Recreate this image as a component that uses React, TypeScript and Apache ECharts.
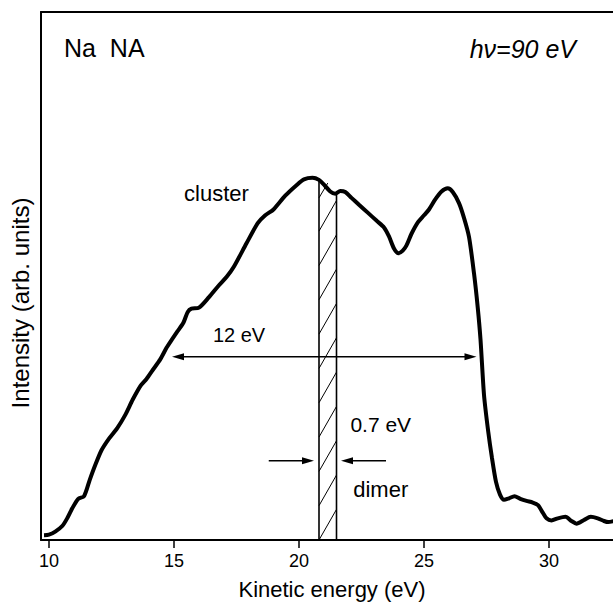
import React, { useEffect, useRef } from "react";
import * as echarts from "echarts";

// Photoelectron spectrum of Na nanoclusters (Na NA), hv = 90 eV
const energy: number[] = [
  9.8, 10.0, 10.25, 10.54, 10.75, 10.93, 11.17, 11.4, 11.63, 11.85, 12.1, 12.4, 12.73,
  13.04, 13.35, 13.66, 13.9, 14.15, 14.45, 14.7, 14.92, 15.15, 15.38, 15.55, 15.7, 16.0,
  16.4, 16.79, 17.1, 17.4, 17.9, 18.35, 18.65, 18.98, 19.45, 19.9, 20.2, 20.54, 20.8, 21.0,
  21.25, 21.45, 21.65, 21.85, 22.1, 22.4, 22.75, 23.12, 23.4, 23.6, 23.8, 23.98, 24.15,
  24.3, 24.5, 24.76, 25.0, 25.2, 25.45, 25.7, 25.95, 26.15, 26.4, 26.6, 26.8, 27.0, 27.15,
  27.26, 27.4, 27.57, 27.72, 27.88, 28.04, 28.2, 28.4, 28.62, 28.85, 29.1, 29.35, 29.56,
  29.75, 29.9, 30.1, 30.35, 30.66, 30.9, 31.1, 31.4, 31.67, 31.95, 32.2, 32.37, 32.6,
];
const intensity: number[] = [
  0.9, 1.0, 1.6, 2.7, 4.3, 6.0, 7.8, 8.3, 11.4, 14.2, 17.0, 19.2, 21.2,
  23.6, 26.6, 29.2, 30.5, 32.2, 34.2, 36.4, 38.0, 39.6, 41.2, 43.2, 43.8, 44.0,
  46.0, 48.2, 49.8, 51.8, 56.2, 60.0, 61.5, 62.6, 65.2, 67.2, 68.3, 68.6, 68.2, 67.3,
  66.0, 65.6, 66.1, 65.9, 64.8, 63.5, 62.0, 60.4, 59.2, 57.5, 55.2, 54.3, 54.8,
  55.8, 58.0, 60.2, 61.5, 62.6, 64.5, 66.0, 66.6, 65.9, 63.8, 61.0, 57.4, 50.5, 44.0,
  38.0, 27.5, 20.5, 15.5, 11.0, 8.6, 7.6, 7.9, 8.3, 7.8, 7.4, 7.1, 6.6,
  5.2, 4.1, 3.7, 4.1, 4.4, 3.6, 3.1, 3.8, 4.4, 4.1, 3.6, 3.4, 3.6,
];

const xTicks: number[] = [10, 15, 20, 25, 30];

// dimer band (0.7 eV wide): [x1, y1, x2, y2]
const bandEdges: number[][] = [
  [20.8, 0, 20.8, 68.4],
  [21.5, 0, 21.5, 65.7],
];
const hatchLines: number[][] = [
  [20.8, 0, 21.5, 5.8],
  [20.8, 6.5, 21.5, 12.3],
  [20.8, 13, 21.5, 18.8],
  [20.8, 19.5, 21.5, 25.3],
  [20.8, 26, 21.5, 31.8],
  [20.8, 32.5, 21.5, 38.3],
  [20.8, 39, 21.5, 44.8],
  [20.8, 45.5, 21.5, 51.3],
  [20.8, 52, 21.5, 57.8],
  [20.8, 58.5, 21.5, 64.3],
  [20.8, 64.8, 21.15, 67.6],
];

// arrows: [xFrom, xTo, y, headAtStart, headAtEnd]
const arrows: number[][] = [
  [14.92, 27.1, 34.7, 1, 1],
  [18.79, 20.6, 15.0, 0, 1],
  [23.48, 21.68, 15.0, 0, 1],
];

const annotationTexts: string[] = ["cluster", "12 eV", "0.7 eV", "dimer"];
const annotationX: number[] = [16.7, 17.6, 23.27, 23.27];
const annotationY: number[] = [65.7, 38.8, 21.8, 9.5];
const annotationSize: number[] = [22, 20, 21, 22];

const FONT = '"Liberation Sans", Arial, Helvetica, sans-serif';

export default function App() {
  const ref = useRef<HTMLDivElement>(null);
  useEffect(() => {
    if (!ref.current) return;
    const chart = echarts.init(ref.current, undefined, { renderer: "svg" });

    const segRender = (w: number) => (params: any, api: any) => {
      const p1 = api.coord([api.value(0), api.value(1)]);
      const p2 = api.coord([api.value(2), api.value(3)]);
      return {
        type: "line",
        shape: { x1: p1[0], y1: p1[1], x2: p2[0], y2: p2[1] },
        style: { stroke: "#000", lineWidth: w },
      };
    };

    const arrowRender = (params: any, api: any) => {
      const p1 = api.coord([api.value(0), api.value(2)]);
      const p2 = api.coord([api.value(1), api.value(2)]);
      const hs = api.value(3);
      const he = api.value(4);
      const L = 12;
      const H = 3.5;
      const dir = p2[0] > p1[0] ? 1 : -1;
      const children: any[] = [];
      const sx = hs ? p1[0] + dir * (L - 2) : p1[0];
      const ex = he ? p2[0] - dir * (L - 2) : p2[0];
      children.push({
        type: "line",
        shape: { x1: sx, y1: p1[1], x2: ex, y2: p2[1] },
        style: { stroke: "#000", lineWidth: 1.6 },
      });
      if (he) {
        children.push({
          type: "polygon",
          shape: {
            points: [
              [p2[0], p2[1]],
              [p2[0] - dir * L, p2[1] - H],
              [p2[0] - dir * L, p2[1] + H],
            ],
          },
          style: { fill: "#000" },
        });
      }
      if (hs) {
        children.push({
          type: "polygon",
          shape: {
            points: [
              [p1[0], p1[1]],
              [p1[0] + dir * L, p1[1] - H],
              [p1[0] + dir * L, p1[1] + H],
            ],
          },
          style: { fill: "#000" },
        });
      }
      return { type: "group", children };
    };

    const textRender = (params: any, api: any) => {
      const p = api.coord([api.value(0), api.value(1)]);
      return {
        type: "text",
        x: p[0],
        y: p[1],
        style: {
          text: annotationTexts[params.dataIndex],
          fill: "#000",
          font: `${annotationSize[params.dataIndex]}px ${FONT}`,
          align: "center",
          verticalAlign: "middle",
        },
      };
    };

    const xMin = 9.68;
    const xMax = 32.56;

    chart.setOption({
      animation: false,
      backgroundColor: "#fff",
      grid: { left: 41, right: 0, top: 12, bottom: 64 },
      xAxis: [
        {
          type: "value",
          min: xMin,
          max: xMax,
          position: "bottom",
          axisLine: { show: true, lineStyle: { color: "#000", width: 2 } },
          axisTick: {
            show: true,
            inside: false,
            length: 8,
            lineStyle: { color: "#000", width: 1.5 },
            customValues: xTicks,
          },
          axisLabel: {
            show: true,
            color: "#000",
            fontSize: 18,
            fontFamily: FONT,
            margin: 12,
            customValues: xTicks,
          },
          splitLine: { show: false },
        },
        {
          type: "value",
          min: xMin,
          max: xMax,
          position: "top",
          axisLine: { show: true, lineStyle: { color: "#000", width: 2 } },
          axisTick: { show: false },
          axisLabel: { show: false },
          splitLine: { show: false },
        },
      ],
      yAxis: {
        type: "value",
        min: 0,
        max: 100,
        axisLine: { show: true, lineStyle: { color: "#000", width: 2 } },
        axisTick: { show: false },
        axisLabel: { show: false },
        splitLine: { show: false },
      },
      graphic: [
        {
          type: "text",
          x: 64,
          y: 47.5,
          style: {
            text: "Na  NA",
            fill: "#000",
            font: `25px ${FONT}`,
            align: "left",
            verticalAlign: "middle",
          },
        },
        {
          type: "text",
          x: 576,
          y: 48.5,
          style: {
            text: "hν=90 eV",
            fill: "#000",
            font: `italic 25px ${FONT}`,
            align: "right",
            verticalAlign: "middle",
          },
        },
        {
          type: "text",
          x: 20,
          y: 303,
          rotation: Math.PI / 2,
          style: {
            text: "Intensity (arb. units)",
            fill: "#000",
            font: `24px ${FONT}`,
            align: "center",
            verticalAlign: "middle",
          },
        },
        {
          type: "text",
          x: 332,
          y: 589,
          style: {
            text: "Kinetic energy (eV)",
            fill: "#000",
            font: `22px ${FONT}`,
            align: "center",
            verticalAlign: "middle",
          },
        },
      ],
      series: [
        {
          name: "spectrum",
          type: "line",
          data: energy.map((e, i) => [e, intensity[i]]),
          showSymbol: false,
          smooth: 0.25,
          lineStyle: { color: "#000", width: 4 },
          z: 5,
        },
        {
          name: "band",
          type: "custom",
          data: bandEdges,
          encode: { x: [0, 2], y: [1, 3] },
          renderItem: segRender(1.6),
          z: 4,
        },
        {
          name: "hatch",
          type: "custom",
          data: hatchLines,
          encode: { x: [0, 2], y: [1, 3] },
          renderItem: segRender(1),
          z: 4,
        },
        {
          name: "arrows",
          type: "custom",
          data: arrows,
          encode: { x: [0, 1], y: 2 },
          renderItem: arrowRender,
          z: 4,
        },
        {
          name: "labels",
          type: "custom",
          data: annotationX.map((x, i) => [x, annotationY[i]]),
          encode: { x: 0, y: 1 },
          renderItem: textRender,
          z: 6,
        },
      ],
    });
    return () => chart.dispose();
  }, []);
  return (
    <div
      ref={ref}
      style={{ position: "fixed", left: 0, top: 0, width: 613, height: 604, background: "#fff" }}
    />
  );
}
